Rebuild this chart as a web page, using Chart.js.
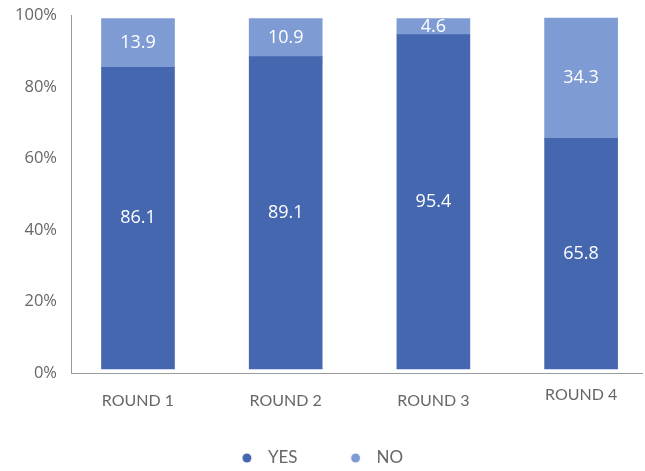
<!DOCTYPE html>
<html>
<head>
<meta charset="utf-8">
<script src="https://cdn.jsdelivr.net/npm/chart.js@4/dist/chart.umd.min.js"></script>
<style>
  html, body { margin: 0; padding: 0; background: #ffffff; }
  canvas { display: block; }
</style>
</head>
<body>
<canvas id="chart" width="645" height="471"></canvas>
<script>
// Survey answers per round, in percent
const ROUNDS = ['ROUND 1', 'ROUND 2', 'ROUND 3', 'ROUND 4'];
const YES = [86.1, 89.1, 95.4, 65.8];
const NO = [13.9, 10.9, 4.6, 34.3];
const SERIES = ['YES', 'NO'];
const PERCENT_TICKS = [0, 20, 40, 60, 80, 100];

const COLORS = ['#4467b0', '#7f9bd3'];
const TEXT_GREY = '#666666';
const AXIS_GREY = '#9a9a9a';

// Small round legend marker, placed inside a wider box so the legend keeps its spacing
function legendDot(color) {
  const c = document.createElement('canvas');
  c.width = 48;
  c.height = 12;
  const g = c.getContext('2d');
  g.fillStyle = color;
  g.beginPath();
  g.arc(41.75, 6, 4.5, 0, Math.PI * 2);
  g.fill();
  return c;
}

// Writes each segment's value in the middle of its bar
const barValueLabels = {
  id: 'barValueLabels',
  afterDatasetsDraw(chart) {
    const ctx = chart.ctx;
    ctx.save();
    ctx.font = '18px "Open Sans"';
    ctx.fillStyle = '#ffffff';
    ctx.textAlign = 'center';
    ctx.textBaseline = 'middle';
    chart.data.datasets.forEach((ds, i) => {
      chart.getDatasetMeta(i).data.forEach((bar, j) => {
        const v = ds.data[j].y;
        ctx.fillText(v.toFixed(1), bar.x, (bar.y + bar.base) / 2);
      });
    });
    ctx.restore();
  }
};

const toPoints = values => values.map((v, i) => ({ x: i, y: v }));

new Chart(document.getElementById('chart'), {
  type: 'bar',
  data: {
    datasets: [
      {
        label: SERIES[0],
        data: toPoints(YES),
        backgroundColor: COLORS[0],
        yAxisID: 'yd',
        pointStyle: legendDot(COLORS[0])
      },
      {
        label: SERIES[1],
        data: toPoints(NO),
        backgroundColor: COLORS[1],
        yAxisID: 'yd',
        pointStyle: legendDot(COLORS[1])
      }
    ]
  },
  options: {
    responsive: false,
    animation: false,
    devicePixelRatio: 1,
    layout: { padding: { left: -40, right: 3, top: 15.3, bottom: -5.5 } },
    datasets: { bar: { barThickness: 73, borderWidth: 0 } },
    scales: {
      x: {
        type: 'linear',
        min: -0.4536,
        max: 3.4124,
        stacked: true,
        offset: false,
        grid: { display: false, drawTicks: false, offset: false },
        border: { display: true, color: AXIS_GREY, width: 1, dash: [1.5, 3.5] },
        afterBuildTicks: s => { s.ticks = ROUNDS.map((_, i) => ({ value: i })); },
        afterFit: s => { s.height = 66.2; },
        ticks: {
          padding: 17.6,
          color: TEXT_GREY,
          autoSkip: false,
          maxRotation: 0,
          font: ctx => ({ family: 'Lato', size: 16, lineHeight: ctx.index === 3 ? 0.5125 : 1.2 }),
          callback: v => ROUNDS[v]
        }
      },
      y: {
        position: 'left',
        min: 0,
        max: 100,
        grid: { display: false, drawTicks: false },
        border: { display: true, color: AXIS_GREY, width: 1, dash: [1, 2] },
        afterBuildTicks: s => { s.ticks = PERCENT_TICKS.map(v => ({ value: v })); },
        afterFit: s => { s.width = 111; },
        ticks: {
          padding: 14,
          color: TEXT_GREY,
          font: { family: 'Open Sans', size: 16.5, lineHeight: 0.05 },
          callback: v => v + '%'
        }
      },
      yd: {
        display: false,
        stacked: true,
        min: -1.23,
        max: 100.91
      }
    },
    plugins: {
      legend: {
        position: 'bottom',
        labels: {
          usePointStyle: true,
          pointStyleWidth: 60.5,
          padding: 10,
          color: TEXT_GREY,
          font: { family: 'Lato', size: 17 }
        }
      },
      tooltip: { enabled: false }
    }
  },
  plugins: [barValueLabels]
});
</script>
</body>
</html>
